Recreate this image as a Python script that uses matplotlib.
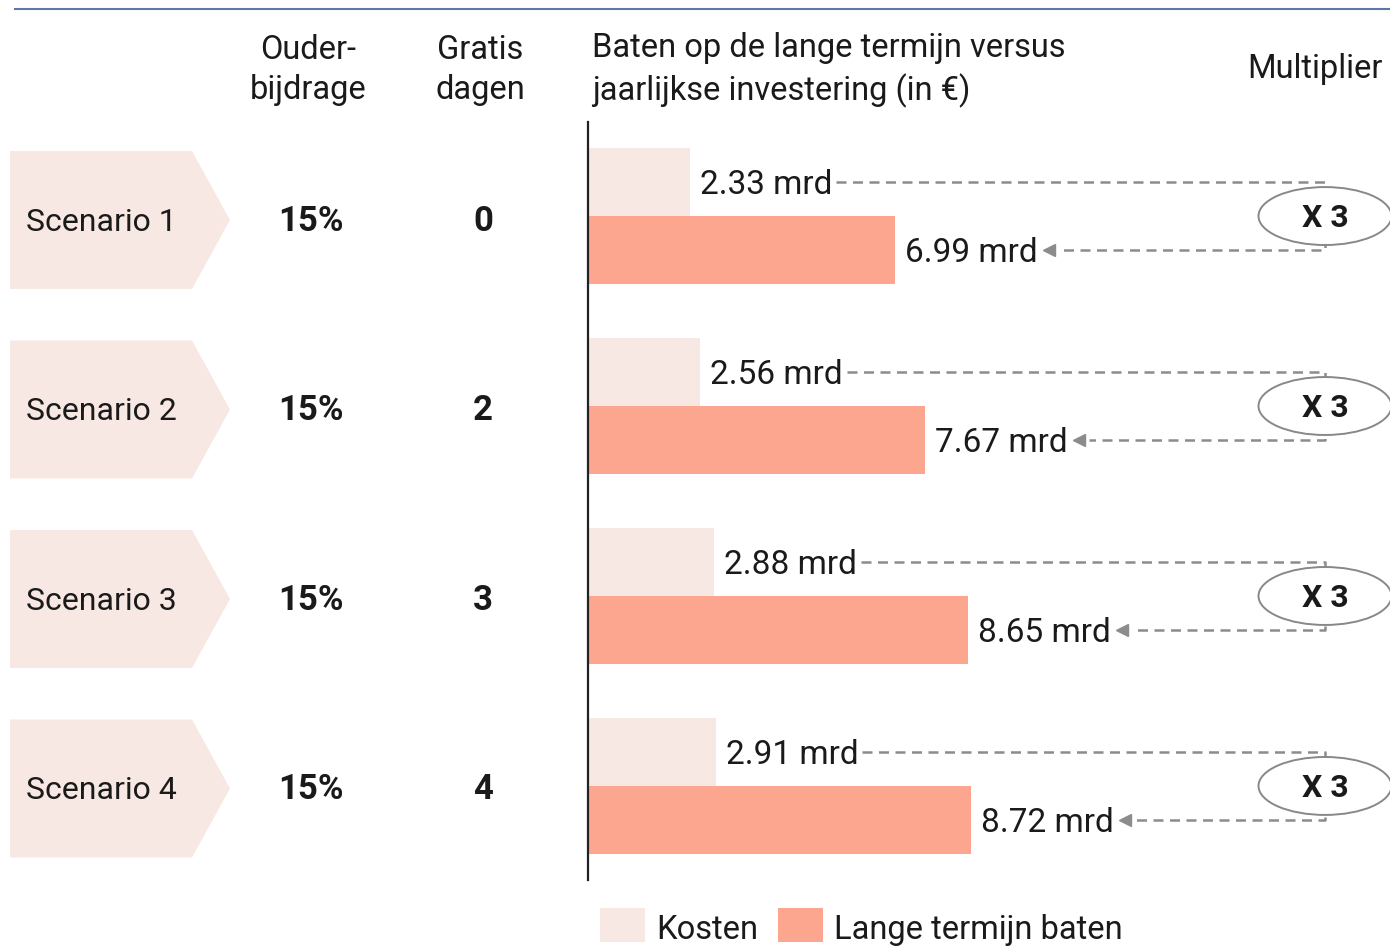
import numpy as np
import matplotlib.pyplot as plt
from matplotlib.patches import Polygon, Ellipse, Rectangle

plt.rcParams['font.family'] = ['Roboto', 'DejaVu Sans']

# data
scenarios = ['Scenario 1', 'Scenario 2', 'Scenario 3', 'Scenario 4']
ouderbijdrage = ['15%', '15%', '15%', '15%']
gratis_dagen = ['0', '2', '3', '4']
kosten = [2.33, 2.56, 2.88, 2.91]
baten = [6.99, 7.67, 8.65, 8.72]
multiplier = ['X 3', 'X 3', 'X 3', 'X 3']

c_kosten = '#f8e8e3'
c_baten = '#fca690'
c_dash = '#8c8c8c'
c_text = '#1a1a1a'

W, H = 1390, 946
fig = plt.figure(figsize=(W / 100, H / 100), dpi=100)

# background axes in pixel coordinates
bg = fig.add_axes([0, 0, 1, 1])
bg.set_xlim(0, W)
bg.set_ylim(H, 0)
bg.axis('off')

# bar axes
px_per_unit = 43.9
ax_left, ax_top, ax_bottom = 588, 122, 880
ax = fig.add_axes([ax_left / W, (H - ax_bottom) / H, (W - ax_left) / W, (ax_bottom - ax_top) / H])
ax.set_xlim(0, (W - ax_left) / px_per_unit)
ax.set_ylim(3.495, -0.495)
ax.patch.set_alpha(0)
for s in ['top', 'right', 'bottom']:
    ax.spines[s].set_visible(False)
ax.spines['left'].set_linewidth(1.6)
ax.spines['left'].set_color('#222222')
ax.set_xticks([])
ax.set_yticks([])

y = np.arange(len(scenarios))
bh = 0.358
ax.barh(y - bh / 2, kosten, height=bh, color=c_kosten)
ax.barh(y + bh / 2, baten, height=bh, color=c_baten)

# top rule
bg.plot([15, W], [9, 9], color='#5b77a8', lw=1.5)

# headers
hdr = 23.5
bg.text(308, 70, 'Ouder-\nbijdrage', ha='center', va='center', fontsize=hdr, color=c_text, linespacing=1.35)
bg.text(480, 70, 'Gratis\ndagen', ha='center', va='center', fontsize=hdr, color=c_text, linespacing=1.35)
bg.text(592, 70, 'Baten op de lange termijn versus\njaarlijkse investering (in €)', ha='left', va='center',
        fontsize=hdr, color=c_text, linespacing=1.35)
bg.text(1383, 69, 'Multiplier', ha='right', va='center', fontsize=hdr, color=c_text)

# left columns
fs = 24
for i in range(len(scenarios)):
    cy = 220 + 189.5 * i
    shape = Polygon([[10, cy - 69], [192, cy - 69], [230, cy], [192, cy + 69], [10, cy + 69]],
                    closed=True, color=c_kosten, lw=0)
    bg.add_patch(shape)
    bg.text(26, cy + 2, scenarios[i], ha='left', va='center', fontsize=23, color=c_text)
    bg.text(311, cy + 1, ouderbijdrage[i], ha='center', va='center', fontsize=25, fontweight='bold', color=c_text)
    bg.text(483, cy + 1, gratis_dagen[i], ha='center', va='center', fontsize=25, fontweight='bold', color=c_text)

# value labels
pad = 10 / px_per_unit
dy = 0.016
k_texts, b_texts = [], []
for i in range(len(scenarios)):
    k_texts.append(ax.text(kosten[i] + pad, y[i] - bh / 2 + dy, f'{kosten[i]:.2f} mrd', ha='left', va='center',
                           fontsize=fs, color=c_text))
    b_texts.append(ax.text(baten[i] + pad, y[i] + bh / 2 + dy, f'{baten[i]:.2f} mrd', ha='left', va='center',
                           fontsize=fs, color=c_text))

fig.canvas.draw()
r = fig.canvas.get_renderer()
inv = ax.transData.inverted()

x_right = (1325 - ax_left) / px_per_unit
dash = dict(color=c_dash, lw=1.8, dashes=(4, 2.6), clip_on=False)
for i in range(len(scenarios)):
    kx = inv.transform(k_texts[i].get_window_extent(r))[1][0]
    bx = inv.transform(b_texts[i].get_window_extent(r))[1][0]
    yk = y[i] - bh / 2
    yb = y[i] + bh / 2
    ax.plot([kx + 0.08, x_right, x_right, bx + 0.5], [yk, yk, yb, yb], **dash)
    ax.plot(bx + 0.27, yb, marker='<', markersize=9, color=c_dash, clip_on=False)
    ell = Ellipse((x_right, y[i]), 133 / px_per_unit, 0.305, facecolor='white', edgecolor='#888888',
                  lw=1.4, clip_on=False, zorder=5)
    ax.add_patch(ell)
    ax.text(x_right, y[i] + 0.01, multiplier[i], ha='center', va='center', fontsize=23, fontweight='bold',
            color=c_text, zorder=6)

# legend
bg.add_patch(Rectangle((600, 908), 45, 34, color=c_kosten, lw=0))
bg.text(656, 930, 'Kosten', ha='left', va='center', fontsize=23.5, color=c_text)
bg.add_patch(Rectangle((778, 908), 45, 34, color=c_baten, lw=0))
bg.text(834, 930, 'Lange termijn baten', ha='left', va='center', fontsize=23.5, color=c_text)

fig.savefig('out.png', dpi=100)
